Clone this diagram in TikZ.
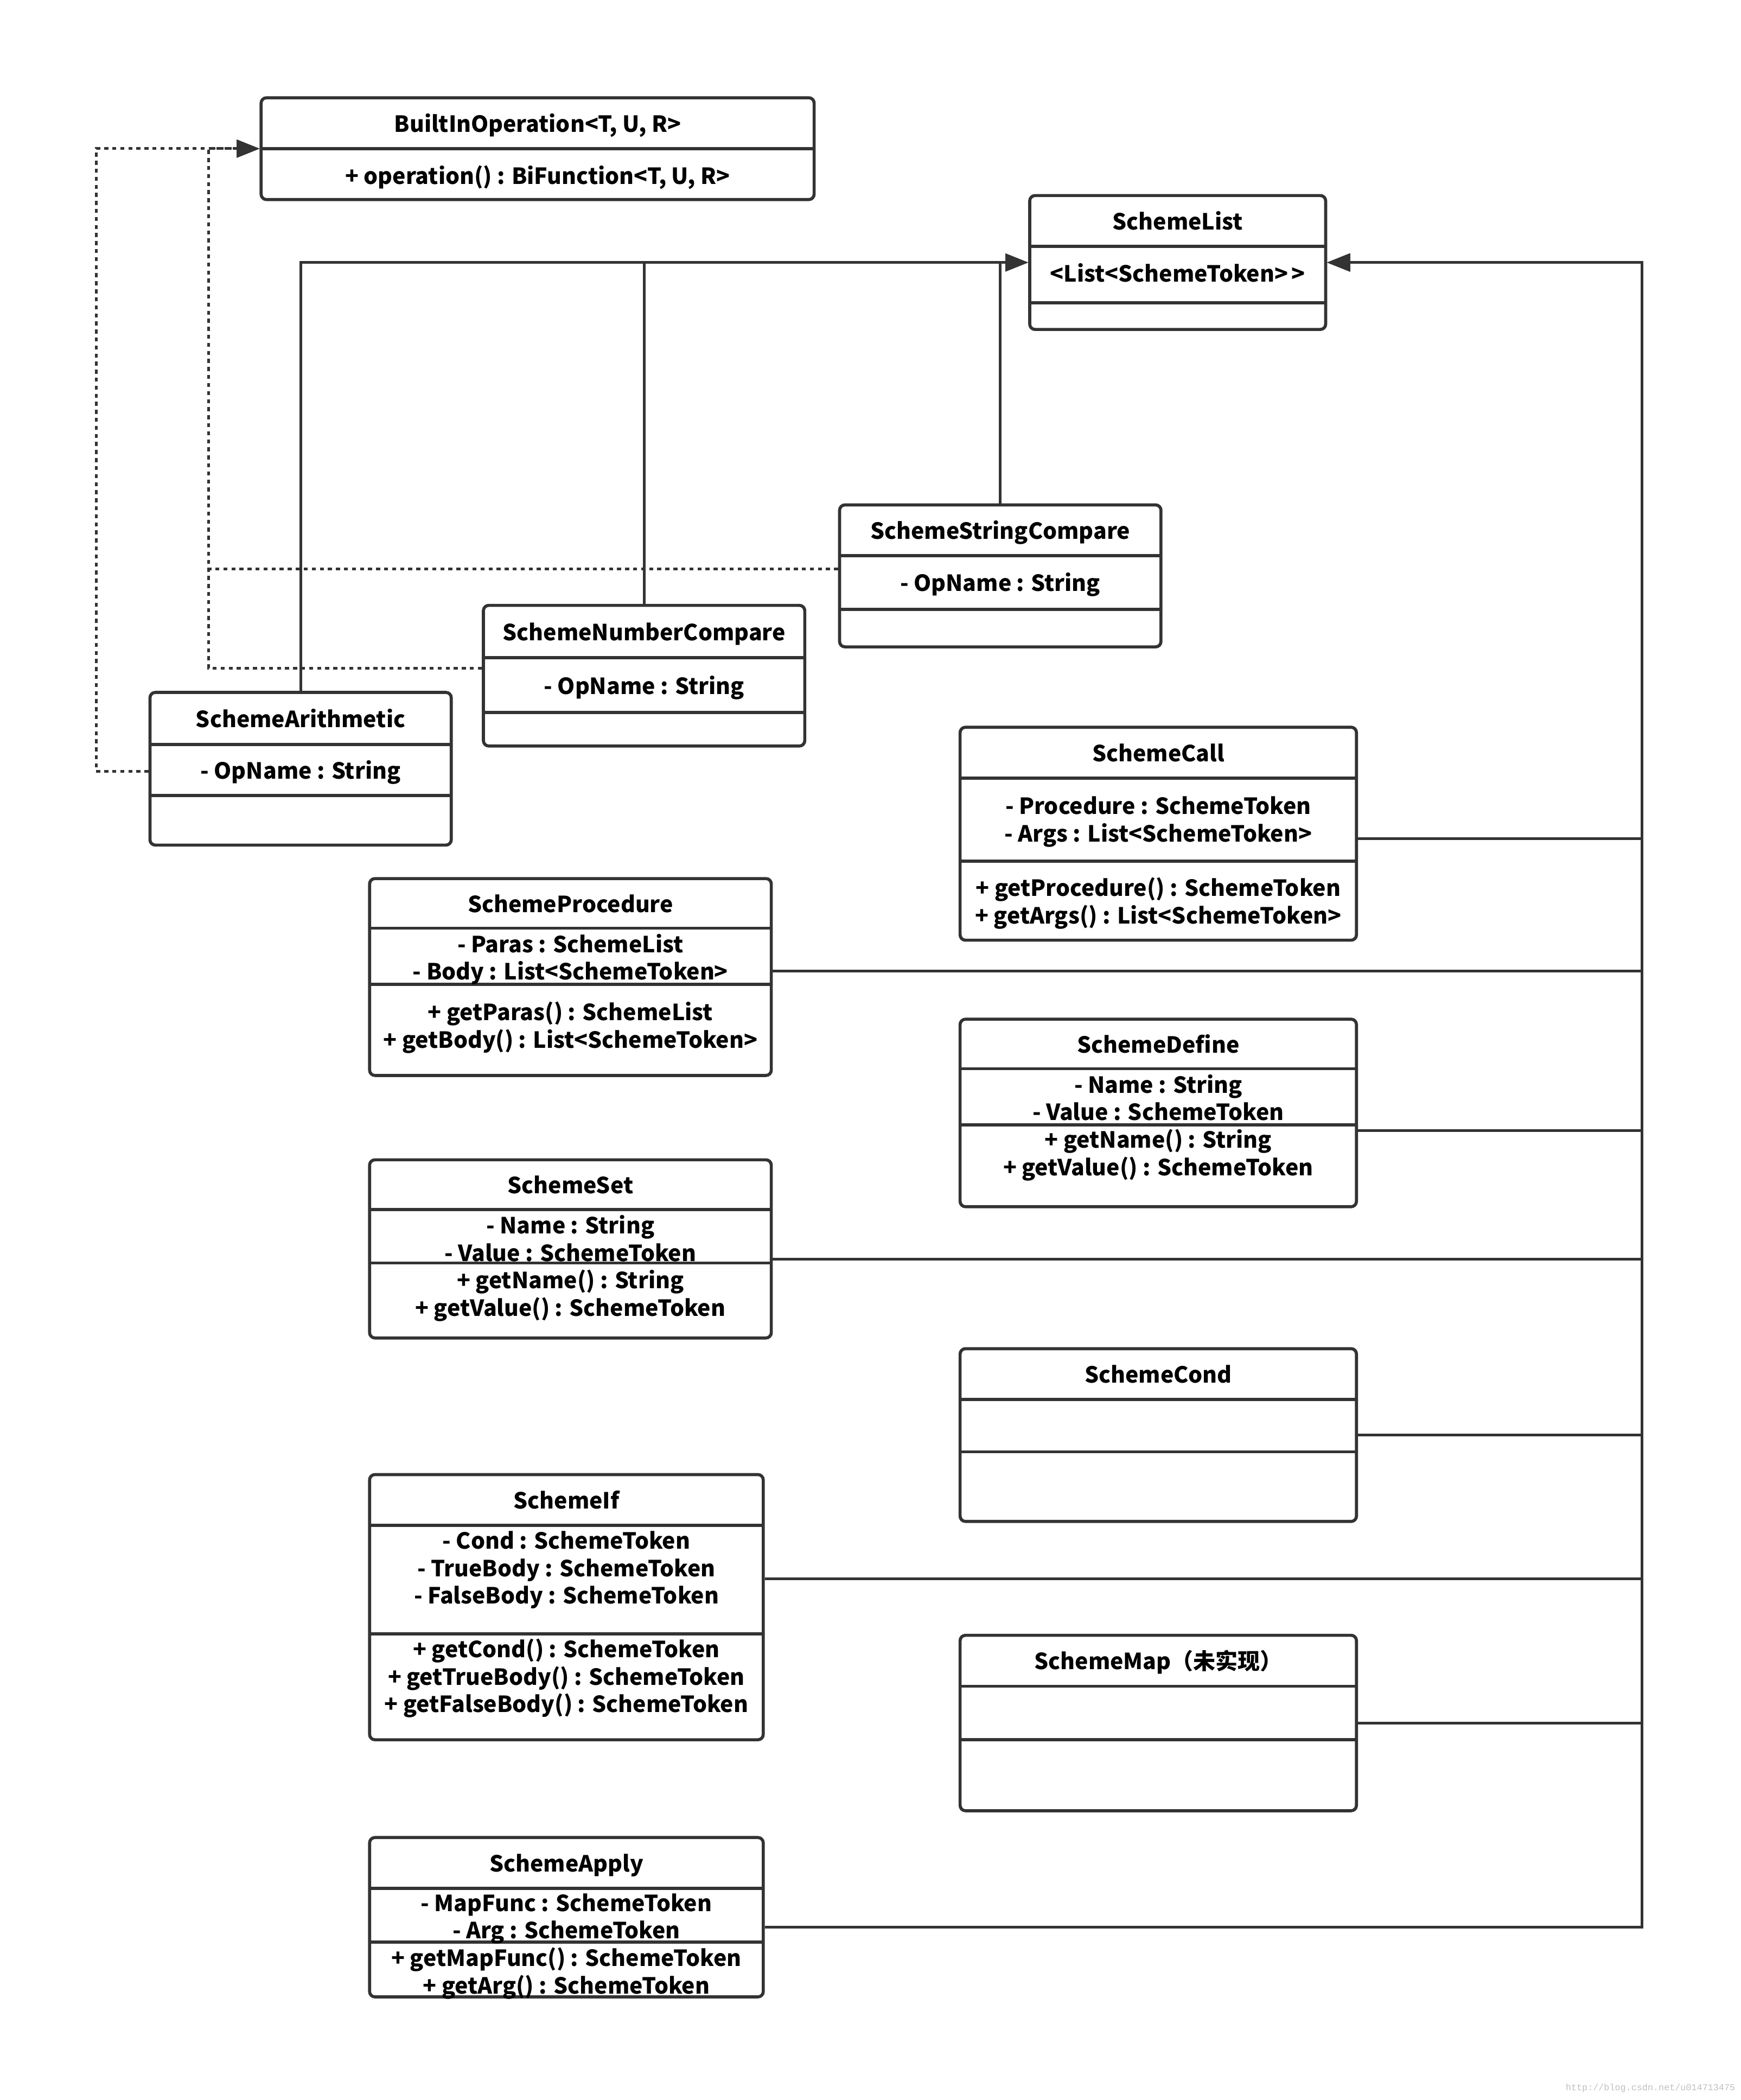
\documentclass[tikz,border=0pt]{standalone}
\usepackage{fontspec}
\setmainfont{Noto Sans CJK SC}
\newfontfamily\wmfont{Liberation Mono}
\usepackage{tikz}
\usetikzlibrary{arrows.meta,fit,positioning}
\definecolor{linecol}{HTML}{333333}
\tikzstyle{classbox} = [draw=linecol, line width=2.3pt, rounded corners=4pt,
    inner sep=0pt, fill=white]
\tikzstyle{rule} = [draw=linecol, line width=2.3pt]
\tikzstyle{classname} = [font=\fontsize{16.6}{20.5}\selectfont\bfseries,
    inner sep=0pt, anchor=base, yshift=3pt]
\tikzstyle{members} = [classname, align=center]
\tikzstyle{extend} = [draw=linecol, line width=2pt,
    -{Triangle[length=17pt,width=13pt]}]
\tikzstyle{realize} = [extend, dash pattern=on 3pt off 3pt]
\tikzstyle{watermark} = [font=\wmfont\fontsize{6.8}{8}\selectfont,
    text=black!25, inner sep=0pt]
% #1 name, #2-#5 corners, #6 #7 rules, #8 title
\newcommand{\umlclass}[8]{%
  \node [classbox, fit={(#2,#3) (#4,#5)}] (#1) {};
  \draw [rule] (#2,#6) -- (#4,#6);
  \draw [rule] (#2,#7) -- (#4,#7);
  \node [classname] (#1-title) at ({(#2+#4)/2},{(#3+#6)/2+9.6}) {#8};
}

\begin{document}
\begin{tikzpicture}[x=1pt, y=-1pt]
  \useasboundingbox (0,0) rectangle (1300,1568);
  % Place classes (members sit on the baseline of their last line)
  \umlclass{builtin}{195}{73}{608}{149}{111}{111}{BuiltInOperation<T, U, R>}
  \node [members] (builtin-ops) at (401.5,140.6) {+ operation() : BiFunction<T, U, R>};

  \umlclass{list}{769}{146}{990}{246}{184}{226}{SchemeList}
  \node [members] (list-attr) at (879.5,213.6) {<List<SchemeToken>\,>};

  \umlclass{strcmp}{627}{377}{867}{483}{415}{455}{SchemeStringCompare}
  \node [members] (strcmp-attr) at (747,444.6) {- OpName : String};

  \umlclass{numcmp}{361}{452}{601}{557}{491}{532}{SchemeNumberCompare}
  \node [members] (numcmp-attr) at (481,521.6) {- OpName : String};

  \umlclass{arith}{112}{517}{337}{631}{556}{594}{SchemeArithmetic}
  \node [members] (arith-attr) at (224.5,584.6) {- OpName : String};

  \umlclass{call}{717}{543}{1013}{702}{581}{643}{SchemeCall}
  \node [members] (call-attr) at (865,631.6) {- Procedure : SchemeToken\\- Args : List<SchemeToken>};
  \node [members] (call-ops) at (865,692.6) {+ getProcedure() : SchemeToken\\+ getArgs() : List<SchemeToken>};

  \umlclass{proc}{276}{656}{576}{803}{693}{735}{SchemeProcedure}
  \node [members] (proc-attr) at (426,734.6) {- Paras : SchemeList\\- Body : List<SchemeToken>};
  \node [members] (proc-ops) at (426,785.6) {+ getParas() : SchemeList\\+ getBody() : List<SchemeToken>};

  \umlclass{define}{717}{761}{1013}{901}{798}{840}{SchemeDefine}
  \node [members] (define-attr) at (865,839.6) {- Name : String\\- Value : SchemeToken};
  \node [members] (define-ops) at (865,880.6) {+ getName() : String\\+ getValue() : SchemeToken};

  \umlclass{set}{276}{866}{576}{999}{903}{943}{SchemeSet}
  \node [members] (set-attr) at (426,944.6) {- Name : String\\- Value : SchemeToken};
  \node [members] (set-ops) at (426,985.6) {+ getName() : String\\+ getValue() : SchemeToken};

  \umlclass{cond}{717}{1007}{1013}{1136}{1045}{1084}{SchemeCond}

  \umlclass{if}{276}{1101}{570}{1299}{1139}{1220}{SchemeIf}
  \node [members] (if-attr) at (423,1200.6) {- Cond : SchemeToken\\- TrueBody : SchemeToken\\- FalseBody : SchemeToken};
  \node [members] (if-ops) at (423,1281.6) {+ getCond() : SchemeToken\\+ getTrueBody() : SchemeToken\\+ getFalseBody() : SchemeToken};

  \umlclass{map}{717}{1221}{1013}{1352}{1259}{1299}{SchemeMap（未实现）}

  \umlclass{apply}{276}{1372}{570}{1491}{1410}{1450}{SchemeApply}
  \node [members] (apply-attr) at (423,1450.6) {- MapFunc : SchemeToken\\- Arg : SchemeToken};
  \node [members] (apply-ops) at (423,1491.6) {+ getMapFunc() : SchemeToken\\+ getArg() : SchemeToken};

  % BuiltInOperation
  \draw [realize] ([yshift=-2pt]arith.west) -| ([xshift=-122pt]builtin.west) -- (builtin.west);
  \draw [realize] ([yshift=5.5pt]numcmp.west) -| ([xshift=-38pt]builtin.west) -- (builtin.west);
  \draw [realize] ([yshift=5pt]strcmp.west) -| ([xshift=-38pt]builtin.west) -- (builtin.west);

  % SchemeList, left side
  \draw [extend] (arith.north) |- (list.west);
  \draw [extend] (numcmp.north) |- (list.west);
  \draw [extend] (strcmp.north) |- (list.west);

  % SchemeList, right side
  \draw [extend] ([yshift=-3.5pt]call.east) -| ([xshift=235pt]list.east) -- (list.east);
  \draw [extend] ([yshift=4.5pt]proc.east) -| ([xshift=235pt]list.east) -- (list.east);
  \draw [extend] ([yshift=-13pt]define.east) -| ([xshift=235pt]list.east) -- (list.east);
  \draw [extend] ([yshift=-7.5pt]set.east) -| ([xshift=235pt]list.east) -- (list.east);
  \draw [extend] (cond.east) -| ([xshift=235pt]list.east) -- (list.east);
  \draw [extend] ([yshift=21pt]if.east) -| ([xshift=235pt]list.east) -- (list.east);
  \draw [extend] (map.east) -| ([xshift=235pt]list.east) -- (list.east);
  \draw [extend] ([yshift=-7.5pt]apply.east) -| ([xshift=235pt]list.east) -- (list.east);

  \node [watermark, anchor=east] (wm) at (1296,1559) {http://blog.csdn.net/u014713475};
\end{tikzpicture}
\end{document}
